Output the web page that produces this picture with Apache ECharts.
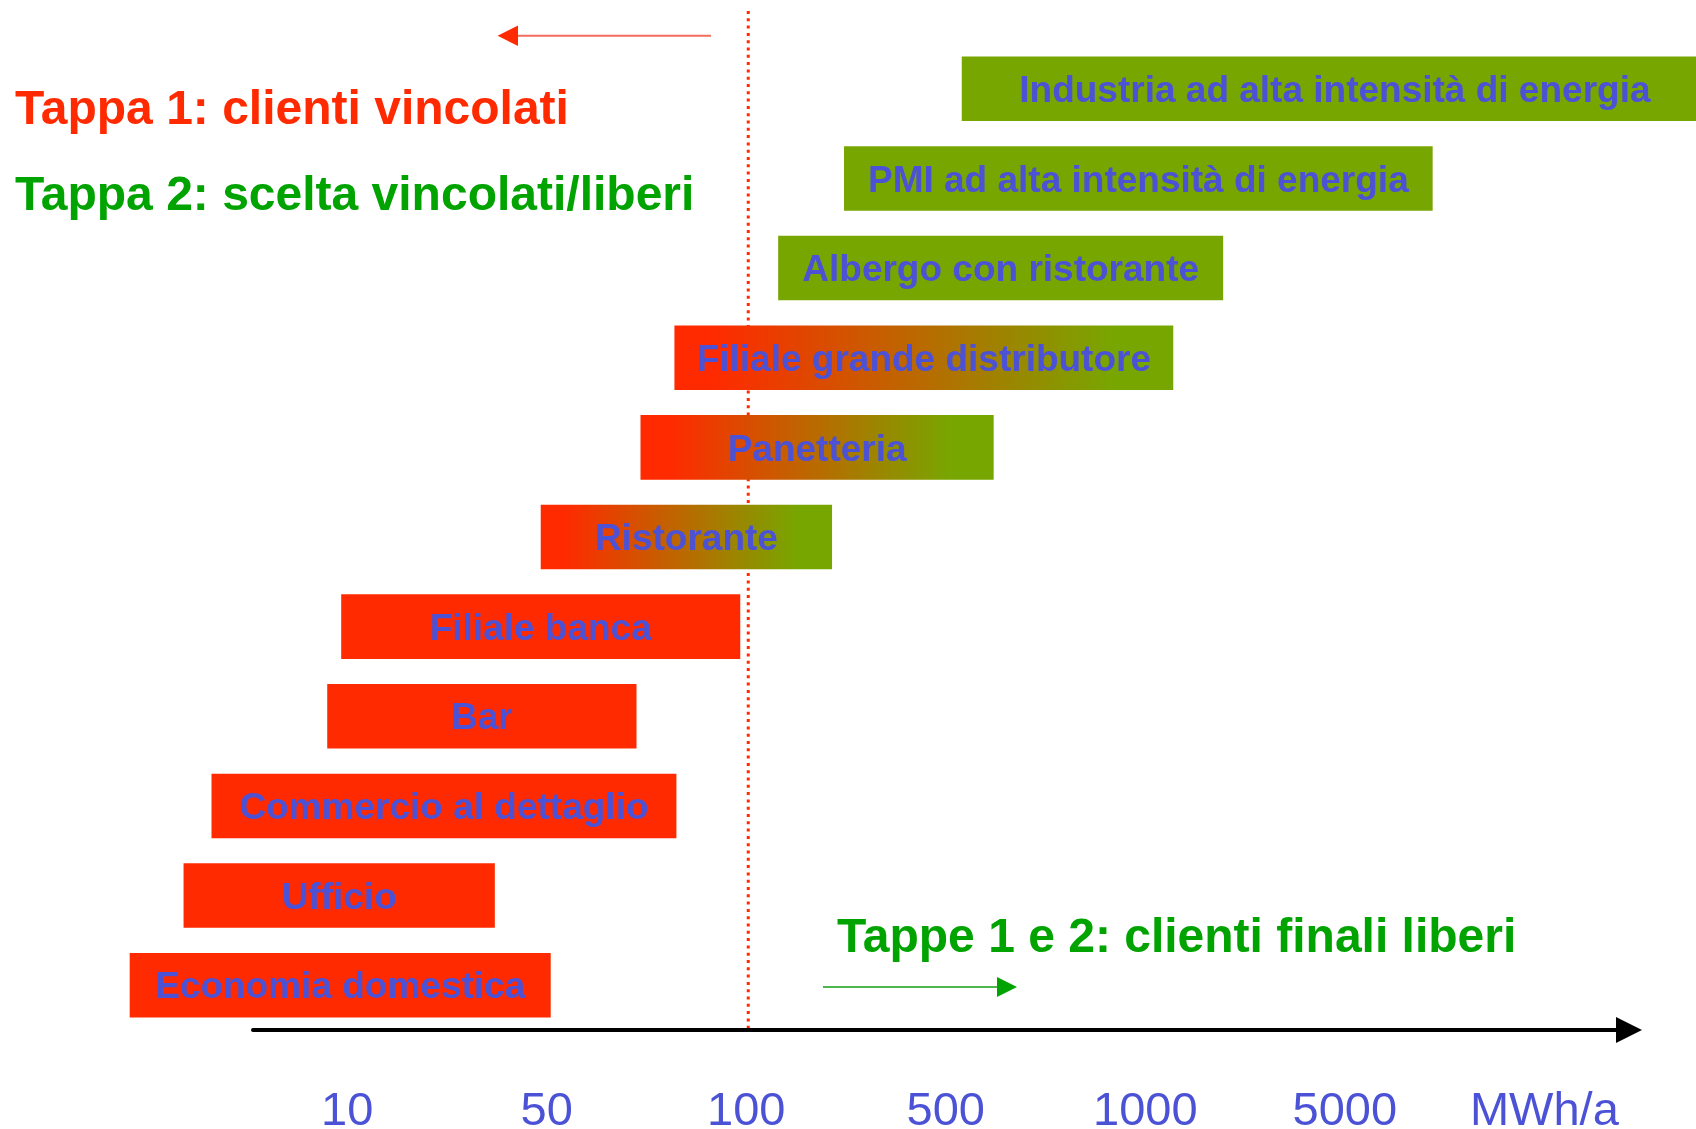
<!DOCTYPE html>
<html>
<head>
<meta charset="utf-8">
<title>Tappe liberalizzazione</title>
<script src="https://cdn.jsdelivr.net/npm/echarts@6.0.0/dist/echarts.min.js"></script>
<style>
html,body{margin:0;padding:0;background:#fff;}
#chart{width:1696px;height:1129px;}
</style>
</head>
<body>
<div id="chart"></div>
<script>
// categorie dall'alto verso il basso
var aCat=['Industria ad alta intensità di energia','PMI ad alta intensità di energia','Albergo con ristorante',
    'Filiale grande distributore','Panetteria','Ristorante','Filiale banca','Bar','Commercio al dettaglio',
    'Ufficio','Economia domestica'];
// inizio / fine del consumo, in posizioni della scala (0 = 10, 1 = 50, 2 = 100 ...)
var aStart=[3.08,2.49,2.16,1.64,1.47,0.97,-0.03,-0.10,-0.68,-0.82,-1.09];
var aEnd=[6.82,5.44,4.39,4.14,3.24,2.43,1.97,1.45,1.65,0.74,1.02];
// 1 = clienti vincolati, 12 = scelta, 2 = clienti liberi
var aTappa=[2,2,2,12,12,12,1,1,1,1,1];
var aTick=['10','50','100','500','1000','5000','MWh/a'];
var aTickPos=[0,1,2,3,4,5,6];
var iSoglia=2; // 100 MWh/a

var sRed='#FF2A00',sGreen='#78A600',sBlue='#4B52D6',sFont='"Liberation Sans", Arial, sans-serif';

var aData=[];
for(var i=0;i<aCat.length;i++){
    aData.push([i,aStart[i],aEnd[i],aTappa[i]]);
}

function fillFor(t){
    if(t==1)return sRed;
    if(t==2)return sGreen;
    return {type:'linear',x:0,y:0,x2:1,y2:0,colorStops:[
        {offset:0,color:sRed},{offset:0.08,color:sRed},{offset:0.88,color:sGreen},{offset:1,color:sGreen}]};
}

var oChart=echarts.init(document.getElementById('chart'));
var option={
    animation:false,
    grid:{left:253,right:67,top:44,bottom:99,containLabel:false,outerBoundsMode:'none'},
    xAxis:{
        type:'value',
        min:-0.472,
        max:6.424,
        splitLine:{show:false},
        axisTick:{show:false},
        axisLine:{show:true,onZero:false,symbol:['none','triangle'],symbolSize:[26,26],
            lineStyle:{color:'#000',width:4}},
        axisLabel:{
            customValues:aTickPos,
            formatter:function(v){return aTick[Math.round(v)];},
            color:sBlue,fontSize:47,fontFamily:sFont,margin:59
        }
    },
    yAxis:{
        type:'category',
        inverse:true,
        data:aCat,
        show:false
    },
    series:[{
        type:'custom',
        clip:false,
        encode:{x:[1,2],y:0},
        data:aData,
        renderItem:function(params,api){
            var idx=api.value(0);
            var p0=api.coord([api.value(1),idx]);
            var p1=api.coord([api.value(2),idx]);
            var h=api.size([0,1])[1]*0.72;
            return {
                type:'group',
                children:[{
                    type:'rect',
                    shape:{x:p0[0],y:p0[1]-h/2,width:p1[0]-p0[0],height:h},
                    style:{fill:fillFor(api.value(3))}
                },{
                    type:'text',
                    x:(p0[0]+p1[0])/2,
                    y:p0[1]+3,
                    style:{text:aCat[idx],fill:sBlue,font:'bold 37px '+sFont,align:'center',verticalAlign:'middle'}
                }]
            };
        }
    }]
};
oChart.setOption(option);

// linea tratteggiata della soglia e annotazioni
var xSoglia=oChart.convertToPixel({xAxisIndex:0},iSoglia);
oChart.setOption({
    graphic:[
        {type:'line',shape:{x1:xSoglia+2,y1:11,x2:xSoglia+2,y2:1028},
            style:{stroke:sRed,lineWidth:3,lineDash:[3,4.3]}},
        {type:'line',shape:{x1:711,y1:35.7,x2:515,y2:35.7},style:{stroke:'#F26B5B',lineWidth:2}},
        {type:'polygon',shape:{points:[[497.6,35.7],[518,25.5],[518,46]]},style:{fill:sRed}},
        {type:'line',shape:{x1:823,y1:987,x2:999,y2:987},style:{stroke:'#4DB84D',lineWidth:2}},
        {type:'polygon',shape:{points:[[1017,987],[997,977],[997,997]]},style:{fill:'#00A300'}},
        {type:'text',x:15,y:111,style:{text:'Tappa 1: clienti vincolati',fill:sRed,font:'bold 48px '+sFont,verticalAlign:'middle'}},
        {type:'text',x:15,y:197,style:{text:'Tappa 2: scelta vincolati/liberi',fill:'#00A300',font:'bold 48px '+sFont,verticalAlign:'middle'}},
        {type:'text',x:837,y:939,style:{text:'Tappe 1 e 2: clienti finali liberi',fill:'#00A300',font:'bold 48px '+sFont,verticalAlign:'middle'}}
    ]
});
</script>
</body>
</html>
